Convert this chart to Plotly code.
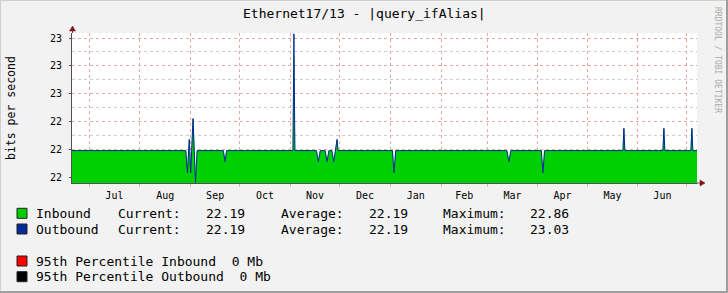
import plotly.graph_objects as go

# ---------------- data ----------------
sample_time = [
    "2016-06-20 15:00", "2016-08-29 02:00", "2016-08-30 02:00", "2016-08-31 05:00",
    "2016-09-01 02:00", "2016-09-01 19:00", "2016-09-02 12:00", "2016-09-03 06:00",
    "2016-09-04 00:00", "2016-09-05 00:00", "2016-09-21 00:00", "2016-09-22 00:00",
    "2016-09-23 00:00", "2016-11-02 12:00", "2016-11-03 02:00", "2016-11-03 16:00",
    "2016-11-16 20:00", "2016-11-18 00:00", "2016-11-19 04:00", "2016-11-22 03:00",
    "2016-11-23 07:00", "2016-11-24 11:00", "2016-11-26 06:00", "2016-11-27 10:00",
    "2016-11-28 10:00", "2016-11-29 10:00", "2016-11-30 00:00", "2017-01-02 05:00",
    "2017-01-03 05:00", "2017-01-04 05:00", "2017-03-13 02:00", "2017-03-14 07:00",
    "2017-03-15 12:00", "2017-04-03 02:00", "2017-04-04 02:00", "2017-04-05 02:00",
    "2017-05-22 22:00", "2017-05-23 12:00", "2017-05-24 02:00", "2017-06-16 08:00",
    "2017-06-16 22:00", "2017-06-17 12:00", "2017-07-03 10:00", "2017-07-04 00:00",
    "2017-07-04 14:00", "2017-07-07 03:00",
]
inbound = [
    22.19, 22.19, 22.03, 22.27,
    22.03, 22.19, 22.42, 22.19,
    21.96, 22.19, 22.19, 22.11,
    22.19, 22.19, 22.86, 22.19,
    22.19, 22.11, 22.19, 22.19,
    22.11, 22.19, 22.19, 22.11,
    22.19, 22.27, 22.19, 22.19,
    22.03, 22.19, 22.19, 22.11,
    22.19, 22.19, 22.03, 22.19,
    22.19, 22.35, 22.19, 22.19,
    22.35, 22.19, 22.19, 22.35,
    22.19, 22.19,
]
outbound = [
    22.19, 22.19, 22.03, 22.27,
    22.03, 22.19, 22.42, 22.19,
    21.96, 22.19, 22.19, 22.11,
    22.19, 22.19, 23.03, 22.19,
    22.19, 22.11, 22.19, 22.19,
    22.11, 22.19, 22.19, 22.11,
    22.19, 22.27, 22.19, 22.19,
    22.03, 22.19, 22.19, 22.11,
    22.19, 22.19, 22.03, 22.19,
    22.19, 22.35, 22.19, 22.19,
    22.35, 22.19, 22.19, 22.35,
    22.19, 22.19,
]
x_range = ["2016-06-20 15:00", "2017-07-07 03:00"]
y_range = [21.957, 23.036]

title_text = "Ethernet17/13 - |query_ifAlias|"
y_title = "bits per second"
legend_names = ["Inbound", "Outbound"]
legend_colors = ["#00CF00", "#002A97", "#FF0000", "#000000"]
stat_current = ["22.19", "22.19"]
stat_average = ["22.19", "22.19"]
stat_maximum = ["22.86", "23.03"]
pct_lines = ["95th Percentile Inbound  0 Mb", "95th Percentile Outbound  0 Mb"]

# ---------------- layout helpers ----------------
W, H = 728, 293
L, R, T, B = 72, 31, 33, 110
PW, PH = W - L - R, H - T - B
MONO = "DejaVu Sans Mono"


def px(x):
    return (x - L) / PW


def py(y):
    return (T + PH - y) / PH


fig = go.Figure()
fig.add_trace(go.Scatter(
    x=sample_time, y=inbound, mode="lines", name="Inbound",
    line=dict(color="#00CF00", width=0.5), fill="tozeroy", fillcolor="#00CF00",
    showlegend=False, hoverinfo="skip"))
fig.add_trace(go.Scatter(
    x=sample_time, y=outbound, mode="lines", name="Outbound",
    line=dict(color="#002A97", width=1), showlegend=False, hoverinfo="skip"))

grid_major = "#EBA9A9"
grid_minor = "#CDCDCD"
axis_col = "#505050"

fig.update_layout(
    width=W, height=H,
    margin=dict(l=L, r=R, t=T, b=B, pad=0),
    paper_bgcolor="#F2F2F2", plot_bgcolor="#FFFFFF",
    font=dict(family=MONO, size=10, color="#000000"),
    xaxis=dict(
        type="date", range=x_range, dtick="M1", tick0="2016-07-01",
        tickformat="%b", ticklabelmode="period",
        showgrid=True, gridcolor=grid_major, griddash="dot", gridwidth=1,
        showline=True, linecolor=axis_col, linewidth=1,
        ticks="outside", ticklen=3, tickcolor=grid_major,
        tickfont=dict(family=MONO, size=10, color="#000000"),
        zeroline=False, fixedrange=True,
    ),
    yaxis=dict(
        range=y_range, tick0=22.0, dtick=0.2, tickformat=".0f",
        showgrid=True, gridcolor=grid_major, griddash="dot", gridwidth=1,
        minor=dict(dtick=0.1, tick0=22.0, showgrid=True, gridcolor=grid_minor,
                   griddash="dot", ticks=""),
        showline=True, linecolor=axis_col, linewidth=1,
        ticks="outside", ticklen=2, tickcolor=axis_col,
        ticklabelstandoff=5,
        tickfont=dict(family=MONO, size=10, color="#000000"),
        zeroline=False, fixedrange=True,
    ),
)

shapes = []
ann = []

# axis arrows
arrow_col = "#801515"
shapes.append(dict(type="line", xref="paper", yref="paper",
                   x0=px(72.5), x1=px(72.5), y0=py(33), y1=py(29),
                   line=dict(color=axis_col, width=1)))
shapes.append(dict(type="path", xref="paper", yref="paper",
                   path=f"M {px(69.5)} {py(31)} L {px(75.5)} {py(31)} L {px(72.5)} {py(26)} Z",
                   fillcolor=arrow_col, line=dict(color=arrow_col, width=0.5)))
shapes.append(dict(type="line", xref="paper", yref="paper",
                   x0=px(697), x1=px(701), y0=py(183), y1=py(183),
                   line=dict(color=axis_col, width=1)))
shapes.append(dict(type="path", xref="paper", yref="paper",
                   path=f"M {px(700)} {py(180)} L {px(700)} {py(186)} L {px(705)} {py(183)} Z",
                   fillcolor=arrow_col, line=dict(color=arrow_col, width=0.5)))

# frame (3D border)
shapes.append(dict(type="rect", xref="paper", yref="paper", x0=px(0), x1=px(W), y0=py(0), y1=py(1),
                   fillcolor="#CFCFCF", line=dict(width=0)))
shapes.append(dict(type="rect", xref="paper", yref="paper", x0=px(0), x1=px(1), y0=py(0), y1=py(H),
                   fillcolor="#CFCFCF", line=dict(width=0)))
shapes.append(dict(type="rect", xref="paper", yref="paper", x0=px(W - 2), x1=px(W), y0=py(0), y1=py(H),
                   fillcolor="#9E9E9E", line=dict(width=0)))
shapes.append(dict(type="rect", xref="paper", yref="paper", x0=px(0), x1=px(W), y0=py(H - 2), y1=py(H),
                   fillcolor="#9E9E9E", line=dict(width=0)))

# title, y title, watermark
ann.append(dict(text=title_text, xref="paper", yref="paper", x=px(364), y=py(13),
                xanchor="center", yanchor="middle", showarrow=False,
                font=dict(family=MONO, size=13, color="#000000")))
ann.append(dict(text=y_title, xref="paper", yref="paper", x=px(11), y=py(108),
                xanchor="center", yanchor="middle", showarrow=False, textangle=-90,
                font=dict(family=MONO, size=11.5, color="#000000")))
ann.append(dict(text="RRDTOOL / TOBI OETIKER", xref="paper", yref="paper", x=px(718), y=py(60),
                xanchor="center", yanchor="middle", showarrow=False, textangle=90,
                font=dict(family=MONO, size=8, color="#AAAAAA")))

# legend
row_y = [213.3, 229.0, 261.0, 276.7]
for i, c in enumerate(legend_colors):
    shapes.append(dict(type="rect", xref="paper", yref="paper",
                       x0=px(17), x1=px(27), y0=py(row_y[i] - 5), y1=py(row_y[i] + 5),
                       fillcolor=c, line=dict(color="#202020", width=1)))


def txt(s, x, y):
    ann.append(dict(text=s, xref="paper", yref="paper", x=px(x), y=py(y),
                    xanchor="left", yanchor="middle", showarrow=False,
                    font=dict(family=MONO, size=13, color="#000000")))


for i in range(2):
    y = row_y[i]
    txt(legend_names[i], 34, y)
    txt("Current:", 116, y)
    txt(stat_current[i], 204, y)
    txt("Average:", 278.5, y)
    txt(stat_average[i], 366.5, y)
    txt("Maximum:", 440.5, y)
    txt(stat_maximum[i], 528, y)
for i in range(2):
    txt(pct_lines[i], 34, row_y[2 + i])

fig.update_layout(shapes=shapes, annotations=ann)
fig.write_html("out.html")
